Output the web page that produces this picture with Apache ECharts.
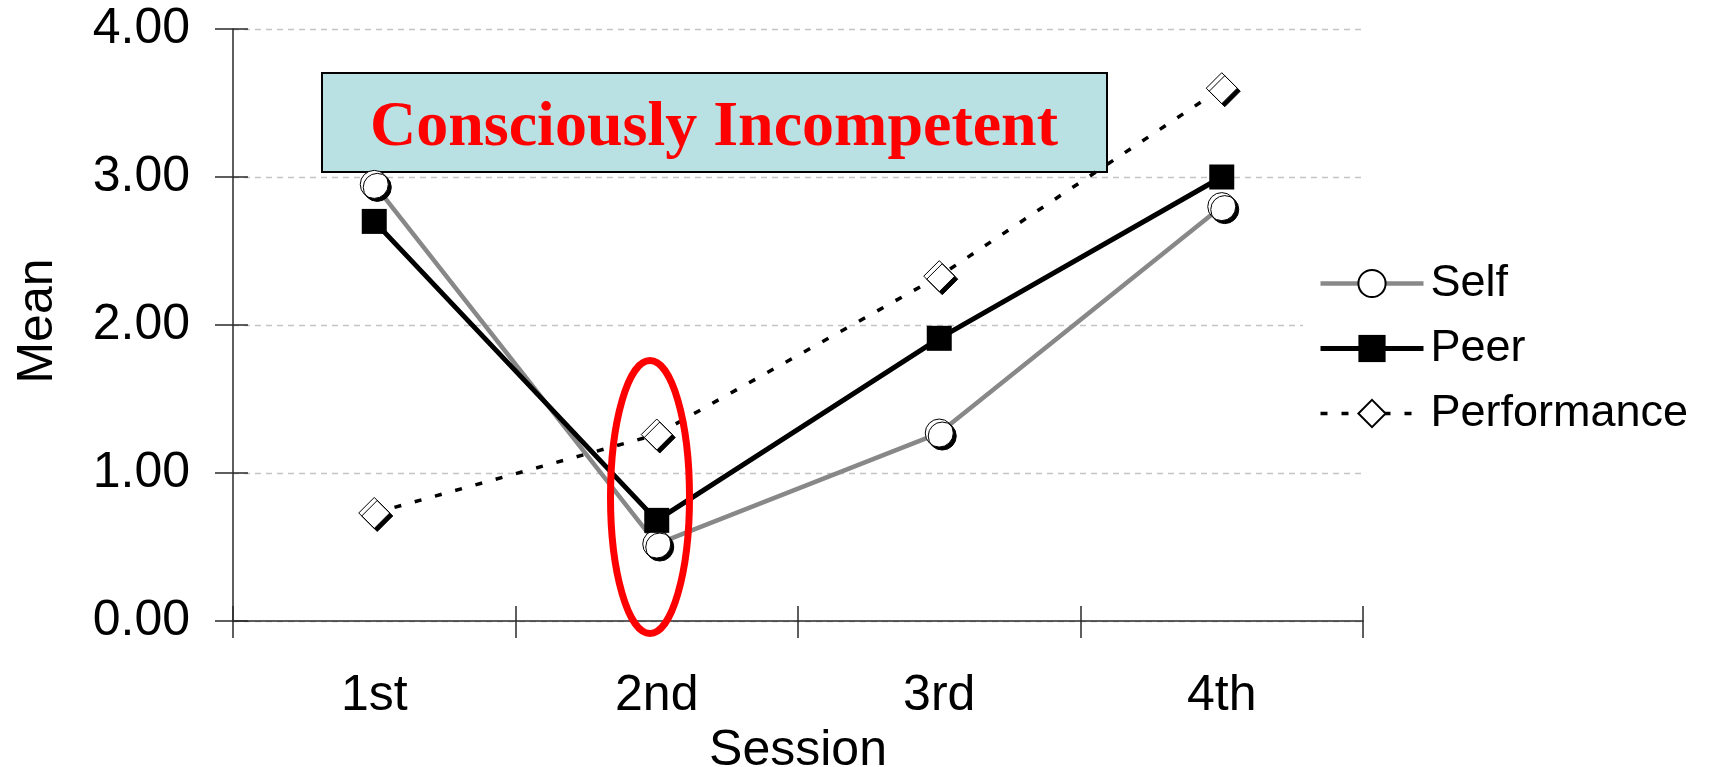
<!DOCTYPE html>
<html>
<head>
<meta charset="utf-8">
<title>Mean ratings by session</title>
<script src="https://cdn.jsdelivr.net/npm/echarts@6/dist/echarts.min.js"></script>
<style>
  html, body { margin: 0; padding: 0; background: #ffffff; }
  #chart { width: 1710px; height: 767px; }
</style>
</head>
<body>
<div id="chart"></div>
<script>
// Sessions along the x axis
const sessions = ['1st', '2nd', '3rd', '4th'];
// Mean ratings per session
const selfMeans = [2.95, 0.52, 1.27, 2.80];
const peerMeans = [2.70, 0.68, 1.91, 3.00];
const performanceMeans = [0.73, 1.26, 2.33, 3.60];
// Value axis range
const yMin = 0, yMax = 4, yStep = 1;

const SANS = '"Liberation Sans", Arial, sans-serif';
const SERIF = '"Liberation Serif", "Times New Roman", serif';
const AXIS_COLOR = '#2a2a2a';

const SELF_WIDTH = 4.5, PEER_WIDTH = 5, PERF_WIDTH = 3.5;
const markerShadow = { shadowColor: '#000', shadowBlur: 0, shadowOffsetX: 3, shadowOffsetY: 3 };

const chart = echarts.init(document.getElementById('chart'), null, { renderer: 'canvas' });

chart.setOption({
  animation: false,
  backgroundColor: '#ffffff',
  grid: { left: 233, right: 347, top: 29, bottom: 146, containLabel: false, outerBoundsMode: 'none' },
  legend: {
    orient: 'vertical',
    left: 1303,
    top: 257,
    padding: [4, 10, 4, 15],
    backgroundColor: '#ffffff',
    itemWidth: 103,
    itemHeight: 34,
    itemGap: 20,
    textStyle: { fontFamily: SANS, fontSize: 45, color: '#000', lineHeight: 44, padding: [0, 0, 0, 2] },
    itemStyle: { shadowColor: 'rgba(0,0,0,0)', shadowBlur: 0, shadowOffsetX: 0, shadowOffsetY: 0 },
    data: [
      { name: 'Self', lineStyle: { width: SELF_WIDTH } },
      { name: 'Peer', lineStyle: { width: PEER_WIDTH } },
      { name: 'Performance', lineStyle: { width: PERF_WIDTH } }
    ]
  },
  xAxis: [
    {
      type: 'category',
      data: sessions,
      boundaryGap: true,
      name: 'Session',
      nameLocation: 'middle',
      nameGap: 98,
      nameTextStyle: { fontFamily: SANS, fontSize: 50, color: '#000' },
      axisLine: { show: true, onZero: false, lineStyle: { color: AXIS_COLOR, width: 1.5 } },
      axisTick: { show: true, inside: false, length: 17, alignWithLabel: false, lineStyle: { color: AXIS_COLOR, width: 1.5 } },
      axisLabel: { fontFamily: SANS, fontSize: 50, color: '#000', margin: 50, lineHeight: 50 },
      splitLine: { show: false }
    },
    {
      type: 'category',
      data: sessions,
      boundaryGap: true,
      position: 'bottom',
      axisLine: { show: false },
      axisTick: { show: true, inside: true, length: 15, lineStyle: { color: AXIS_COLOR, width: 1.5 } },
      axisLabel: { show: false },
      splitLine: { show: false }
    }
  ],
  yAxis: [
    {
      type: 'value',
      min: yMin,
      max: yMax,
      interval: yStep,
      position: 'left',
      name: 'Mean',
      nameLocation: 'middle',
      nameGap: 170,
      nameRotate: 90,
      nameTextStyle: { fontFamily: SANS, fontSize: 50, color: '#000', padding: [0, 0, 0, 8] },
      axisLine: { show: true, onZero: false, lineStyle: { color: AXIS_COLOR, width: 1.5 } },
      axisTick: { show: true, inside: false, length: 18, lineStyle: { color: AXIS_COLOR, width: 1.5 } },
      axisLabel: { fontFamily: SANS, fontSize: 50, color: '#000', margin: 43, formatter: v => v.toFixed(2) },
      splitLine: { show: true, lineStyle: { color: '#c4c4c4', width: 1.3, type: [6, 5] } }
    },
    {
      type: 'value',
      min: yMin,
      max: yMax,
      interval: yStep,
      position: 'left',
      axisLine: { show: false },
      axisTick: { show: true, inside: true, length: 15, lineStyle: { color: AXIS_COLOR, width: 1.5 } },
      axisLabel: { show: false },
      splitLine: { show: false }
    }
  ],
  series: [
    {
      name: 'Self',
      type: 'line',
      data: selfMeans,
      symbol: 'circle',
      symbolSize: 28,
      lineStyle: { color: '#888888', width: SELF_WIDTH },
      itemStyle: Object.assign({ color: '#ffffff', borderColor: '#000', borderWidth: 1 }, markerShadow),
      z: 3
    },
    {
      name: 'Peer',
      type: 'line',
      data: peerMeans,
      symbol: 'rect',
      symbolSize: 25,
      lineStyle: { color: '#000000', width: PEER_WIDTH },
      itemStyle: { color: '#000000', borderColor: '#000', borderWidth: 0 },
      z: 4
    },
    {
      name: 'Performance',
      type: 'line',
      data: performanceMeans,
      symbol: 'diamond',
      symbolSize: 31,
      lineStyle: { color: '#000000', width: PERF_WIDTH, type: [7, 14] },
      itemStyle: Object.assign({ color: '#ffffff', borderColor: '#000', borderWidth: 1 }, markerShadow),
      z: 2
    }
  ],
  graphic: [
    {
      type: 'group',
      z: 100,
      children: [
        {
          type: 'rect',
          shape: { x: 322, y: 73, width: 785, height: 99 },
          style: { fill: '#b9e0e3', stroke: '#000', lineWidth: 2 }
        },
        {
          type: 'text',
          x: 714,
          y: 128,
          style: {
            text: 'Consciously Incompetent',
            fill: '#ff0000',
            font: 'bold 64px ' + SERIF,
            align: 'center',
            verticalAlign: 'middle'
          }
        }
      ]
    },
    {
      type: 'ellipse',
      z: 100,
      shape: { cx: 650, cy: 497, rx: 39.5, ry: 136.5 },
      style: { fill: 'none', stroke: '#ff0000', lineWidth: 7 }
    }
  ]
});
</script>
</body>
</html>
